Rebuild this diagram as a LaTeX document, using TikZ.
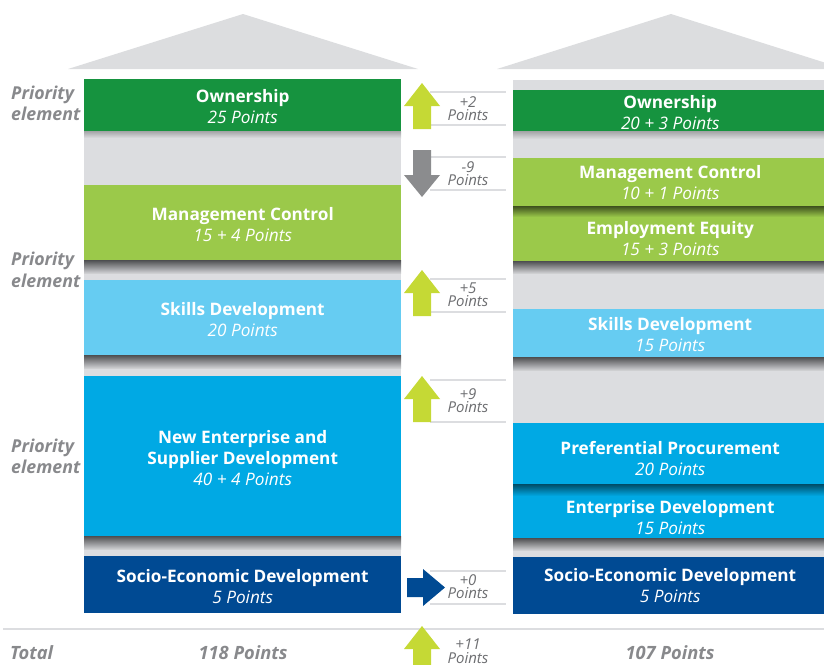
\documentclass[tikz,border=0pt]{standalone}
\usepackage{fontspec}
\setmainfont{Open Sans}
\definecolor{roofgray}{HTML}{DCDDDF}
\definecolor{bggray}{HTML}{DCDDE0}
\definecolor{dgreen}{HTML}{16933F}
\definecolor{mgreen}{HTML}{9BC94A}
\definecolor{lblue}{HTML}{66CCF2}
\definecolor{mblue}{HTML}{00A9E4}
\definecolor{dblue}{HTML}{004A93}
\definecolor{lime}{HTML}{C5D935}
\definecolor{arrgray}{HTML}{8B8C8E}
\definecolor{labgray}{HTML}{88898C}
\definecolor{midgray}{HTML}{6D6E71}
\definecolor{shdark}{HTML}{4D4E50}
\definecolor{shlight}{HTML}{A3A4A6}
\begin{document}
\begin{tikzpicture}[x=1pt,y=-1pt,
  blk/.style={rectangle, inner sep=0pt, anchor=north west},
  lblk/.style={blk, minimum width=317pt},
  rblk/.style={blk, minimum width=317pt},
  btxt/.style={inner sep=0pt, text=white, align=center,
    font=\fontsize{17.2}{21.3}\selectfont},
  midlbl/.style={align=center, text=midgray, inner sep=0pt,
    font=\fontsize{15}{13.5}\selectfont\itshape},
  prio/.style={align=left, anchor=west, text=labgray, inner sep=0pt,
    font=\fontsize{17.8}{21.5}\selectfont\bfseries\itshape},
  tot/.style={text=labgray, inner sep=0pt, font=\fontsize{18.3}{21}\selectfont\bfseries\itshape},
  midline/.style={draw=bggray, line width=2.5pt},
  uparrow/.pic={\fill[lime] (0,0) -- (18,23) -- (9,23) -- (9,46) -- (-9,46) -- (-9,23) -- (-18,23) -- cycle;},
  downarrow/.pic={\fill[arrgray] (-9,0) -- (9,0) -- (9,25) -- (18,25) -- (0,47) -- (-18,25) -- (-9,25) -- cycle;},
  rightarrow/.pic={\fill[dblue] (0,-9.5) -- (16,-9.5) -- (16,-18.5) -- (38,0) -- (16,18.5) -- (16,9.5) -- (0,9.5) -- cycle;}
]
\newcommand\bt[2]{\textbf{#1}\\\textit{#2}}
\useasboundingbox (0,0) rectangle (824,664);
\clip (0,0) rectangle (824,664);

% roofs
\fill[roofgray] (68,69) -- (243,14) -- (418,69) -- cycle;
\fill[roofgray] (497,69) -- (671,14) -- (845,69) -- cycle;

% column backgrounds
\fill[bggray] (84,79) rectangle (401,613);
\fill[bggray] (513,80) rectangle (830,614);

% left column boxes
\node[lblk, fill=dgreen, minimum height=52pt] (lown) at (84,79) {};
\node[lblk, fill=mgreen, minimum height=75pt] (lmc) at (84,185) {};
\node[lblk, fill=lblue, minimum height=75pt] (lsd) at (84,280) {};
\node[lblk, fill=mblue, minimum height=160pt] (lne) at (84,376) {};
\node[lblk, fill=dblue, minimum height=57pt] (lsed) at (84,556) {};

% right column boxes
\node[rblk, fill=dgreen, minimum height=41pt] (rown) at (513,90) {};
\node[rblk, fill=mgreen, minimum height=48pt] (rmc) at (513,158) {};
\node[rblk, fill=mgreen, minimum height=55pt] (ree) at (513,206) {};
\node[rblk, fill=lblue, minimum height=48pt] (rsd) at (513,309) {};
\node[rblk, fill=mblue, minimum height=61pt] (rpp) at (513,423) {};
\node[rblk, fill=mblue, minimum height=54pt] (red) at (513,484) {};
\node[rblk, fill=dblue, minimum height=57pt] (rsed) at (513,557) {};

% shadows
\shade[top color=shlight, bottom color=bggray] (84,131) rectangle (401,138);
\shade[top color=shdark, bottom color=bggray!85!gray] (84,260) rectangle (401,273);
\shade[top color=shdark, bottom color=bggray!85!gray] (84,355) rectangle (401,368);
\shade[top color=shdark, bottom color=bggray!85!gray] (84,536) rectangle (401,549);
\shade[top color=shlight, bottom color=bggray] (513,131) rectangle (830,139);
\shade[top color=mgreen!40!black, bottom color=mgreen] (513,206) rectangle (830,217);
\shade[top color=shdark, bottom color=bggray!85!gray] (513,261) rectangle (830,273);
\shade[top color=shdark, bottom color=bggray!85!gray] (513,357) rectangle (830,370);
\shade[top color=mblue!45!black, bottom color=mblue] (513,484) rectangle (830,496);
\shade[top color=shdark, bottom color=bggray!85!gray] (513,538) rectangle (830,550);

% box texts
\node[btxt] (tlown) at ([yshift=-1pt]lown.center) {\bt{Ownership}{25 Points}};
\node[btxt] (tlmc) at ([yshift=-2pt]lmc.center) {\bt{Management Control}{15 + 4 Points}};
\node[btxt] (tlsd) at ([yshift=-2pt]lsd.center) {\bt{Skills Development}{20 Points}};
\node[btxt] (tlne) at ([yshift=-2pt]lne.center) {\textbf{New Enterprise and}\\\textbf{Supplier Development}\\\textit{40 + 4 Points}};
\node[btxt] (tlsed) at ([yshift=-2pt]lsed.center) {\bt{Socio-Economic Development}{5 Points}};
\node[btxt] (trown) at ([xshift=-1.5pt,yshift=-2pt]rown.center) {\bt{Ownership}{20 + 3 Points}};
\node[btxt] (trmc) at ([xshift=-1.5pt]rmc.center) {\bt{Management Control}{10 + 1 Points}};
\node[btxt] (tree) at ([xshift=-1.5pt,yshift=-5pt]ree.center) {\bt{Employment Equity}{15 + 3 Points}};
\node[btxt] (trsd) at ([xshift=-1.5pt,yshift=-1pt]rsd.center) {\bt{Skills Development}{15 Points}};
\node[btxt] (trpp) at ([xshift=-1.5pt,yshift=-5pt]rpp.center) {\bt{Preferential Procurement}{20 Points}};
\node[btxt] (tred) at ([xshift=-1.5pt,yshift=-6pt]red.center) {\bt{Enterprise Development}{15 Points}};
\node[btxt] (trsed) at ([xshift=-1.5pt]rsed.center) {\bt{Socio-Economic Development}{5 Points}};

% middle guide lines
\foreach \yy in {92,125,157,190,279,312,380,422,571,604}
  \draw[midline] (430,\yy) -- (506,\yy);
\draw[midline] (3,629) -- (830,629);

% change arrows
\pic at (422,83) {uparrow};
\pic at (422,150) {downarrow};
\pic at (422,270) {uparrow};
\pic at (422,376) {uparrow};
\pic at (407,587.5) {rightarrow};
\pic at (422,626) {uparrow};

% change labels
\node[midlbl] (c1) at (468,108.5) {+2\\Points};
\node[midlbl] (c2) at (468,173.5) {-9\\Points};
\node[midlbl] (c3) at (468,294.5) {+5\\Points};
\node[midlbl] (c4) at (468,400.5) {+9\\Points};
\node[midlbl] (c5) at (468,586.5) {+0\\Points};
\node[midlbl] (c6) at (468,651) {+11\\Points};

% priority labels
\node[prio] (p1) at (11,103.5) {Priority\\element};
\node[prio] (p2) at (11,270) {Priority\\element};
\node[prio] (p3) at (11,456.5) {Priority\\element};

% totals
\node[tot, anchor=west] (total) at (10,653) {Total};
\node[tot] (ltot) at (243,653) {118 Points};
\node[tot] (rtot) at (670,653) {107 Points};
\end{tikzpicture}
\end{document}
